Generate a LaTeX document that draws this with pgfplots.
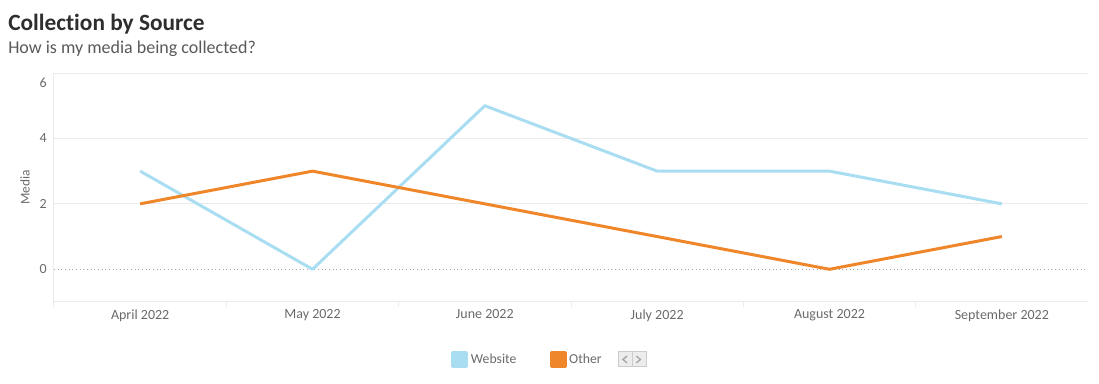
\documentclass[border=0pt]{standalone}
\usepackage{fontspec}
\setmainfont{Carlito}[Ligatures=NoCommon]
\usepackage{pgfplots}
\pgfplotsset{compat=1.18}
\definecolor{webblue}{HTML}{A9DDF1}
\definecolor{othorange}{HTML}{F0862A}
\definecolor{gridgray}{HTML}{EBEBEB}
\definecolor{txtgray}{HTML}{6A6A6A}
\begin{document}
\begin{tikzpicture}
\path[use as bounding box] (0,0) rectangle (824.25pt,288pt);
\node[anchor=base west, inner sep=0, font=\fontsize{17.5pt}{20pt}\selectfont\bfseries, text=black!82] at (6pt,265pt) {Collection by Source};
\node[anchor=base west, inner sep=0, font=\fontsize{13.5pt}{16pt}\selectfont, text=black!65] at (6pt,247.5pt) {How is my media being collected?};
\begin{axis}[
  at={(40.5pt,61.5pt)}, anchor=south west,
  width=775.5pt, height=171.75pt, scale only axis,
  xmin=-0.5, xmax=5.5, ymin=-1, ymax=6,
  axis x line*=box, axis y line*=left,
  axis line style={draw=gridgray, line width=0.75pt},
  xtick={0,...,5},
  xticklabels={April 2022, May 2022, June 2022, July 2022, August 2022, September 2022},
  minor xtick={-0.5,0.5,1.5,2.5,3.5,4.5},
  major tick length=0pt, minor tick length=3.5pt, tick align=outside,
  minor tick style={draw=gridgray, line width=0.75pt},
  xtick pos=bottom, ytick pos=left,
  ytick={2,4,6},
  yticklabels={2,4,{\raisebox{-10.75pt}[0pt][0pt]{6}}},
  extra y ticks={0},
  extra y tick labels={0},
  extra y tick style={grid style={dotted, draw=black!35, line width=0.7pt}},
  ymajorgrids, grid style={draw=gridgray, line width=0.75pt},
  tick label style={font=\fontsize{10.5pt}{12pt}\selectfont, text=txtgray},
  yticklabel style={xshift=-2pt},
  xticklabel style={yshift=-2pt},
  ylabel={Media},
  every axis y label/.style={at={(rel axis cs:0,0.5)}, xshift=-21.75pt, rotate=90, anchor=center, font=\fontsize{10pt}{12pt}\selectfont, text=txtgray},
  legend style={at={(0.384,-0.2533)}, anchor=west, draw=none, fill=none, inner sep=0pt,
    legend columns=-1, font=\fontsize{10.3pt}{12pt}\selectfont, text=txtgray,
    /tikz/every even column/.append style={column sep=22.75pt}},
  legend image code/.code={\fill[#1] (0pt,-5.25pt) rectangle (10.5pt,5.25pt);},
]
\addplot[color=webblue, line width=2.25pt, line join=round] coordinates {(0,3) (1,0) (2,5) (3,3) (4,3) (5,2)};
\addlegendentry{Website}
\addplot[color=othorange, line width=2.25pt, line join=round] coordinates {(0,2) (1,3) (2,2) (3,1) (4,0) (5,1)};
\addlegendentry{Other}
\end{axis}
\draw[fill=black!7, draw=black!20, line width=0.75pt] (463.5pt,12.75pt) rectangle (474pt,24pt);
\draw[fill=black!7, draw=black!20, line width=0.75pt] (474pt,12.75pt) rectangle (484.5pt,24pt);
\draw[black!35, line width=1pt] (470.3pt,21pt) -- (467.2pt,18.4pt) -- (470.3pt,15.8pt);
\draw[black!35, line width=1pt] (477.2pt,21pt) -- (480.3pt,18.4pt) -- (477.2pt,15.8pt);
\end{tikzpicture}
\end{document}
